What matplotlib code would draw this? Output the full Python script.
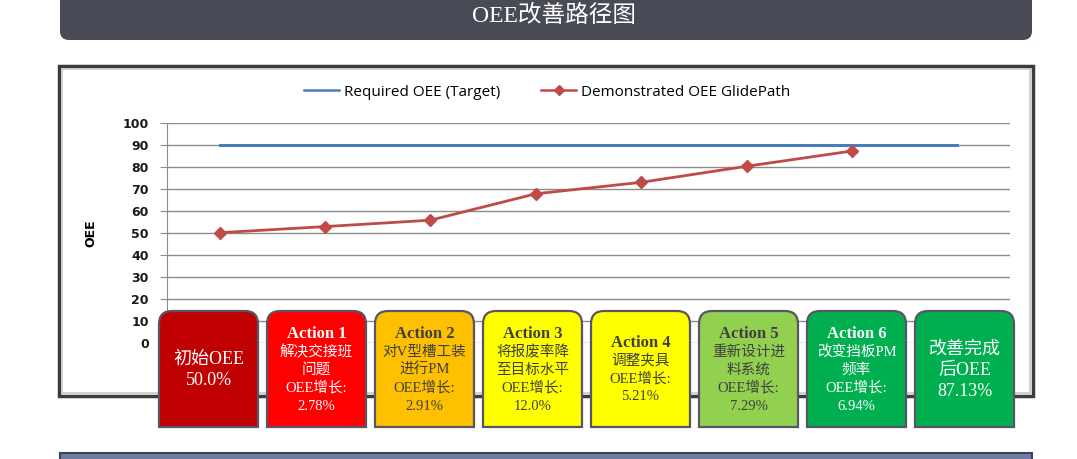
import matplotlib
matplotlib.use("Agg")
import matplotlib.pyplot as plt
from matplotlib.path import Path
from matplotlib.patches import PathPatch, Rectangle, FancyBboxPatch
from matplotlib.lines import Line2D

# data
steps = ["初始", "Action 1", "Action 2", "Action 3", "Action 4", "Action 5", "Action 6", "完成"]
target = [90, 90, 90, 90, 90, 90, 90, 90]
glide = [50.0, 52.78, 55.69, 67.69, 72.90, 80.19, 87.13]
yticks = [0, 10, 20, 30, 40, 50, 60, 70, 80, 90, 100]

box_heads = ["", "Action 1", "Action 2", "Action 3", "Action 4", "Action 5", "Action 6", ""]
box_lines = [
    ["初始OEE", "50.0%"],
    ["解决交接班", "问题", "OEE增长:", "2.78%"],
    ["对V型槽工装", "进行PM", "OEE增长:", "2.91%"],
    ["将报废率降", "至目标水平", "OEE增长:", "12.0%"],
    ["调整夹具", "OEE增长:", "5.21%"],
    ["重新设计进", "料系统", "OEE增长:", "7.29%"],
    ["改变挡板PM", "频率", "OEE增长:", "6.94%"],
    ["改善完成", "后OEE", "87.13%"],
]
box_colors = ["#c00000", "#ff0000", "#ffc000", "#ffff00", "#ffff00", "#92d050", "#00b050", "#00b050"]
text_colors = ["white", "white", "#404040", "#404040", "#404040", "#404040", "white", "white"]

W, H = 1077, 459
SERIF = ["Liberation Serif", "Noto Sans CJK SC"]

fig = plt.figure(figsize=(W / 100, H / 100), dpi=100)

# background layer in pixel coords
bg = fig.add_axes([0, 0, 1, 1], zorder=0)
bg.set_xlim(0, W)
bg.set_ylim(H, 0)
bg.axis("off")

bg.add_patch(FancyBboxPatch((60, -30), 972, 70, boxstyle="round,pad=0,rounding_size=9",
                            facecolor="#484a55", edgecolor="none"))
bg.text(554, 16, "OEE改善路径图", color="white", fontsize=17, ha="center", va="center",
        family=SERIF)

bg.add_patch(Rectangle((59, 66), 974, 330, facecolor="white", edgecolor="#3c3c3c", lw=2.5))
bg.add_patch(Rectangle((62, 69), 968, 324, facecolor="none", edgecolor="#c8c8c8", lw=1.2))

bg.add_patch(Rectangle((60, 453), 972, 20, facecolor="#717ba0", edgecolor="#3c4260", lw=1.5))

# chart
top_px, bot_px, left_px, right_px = 122.7, 342.7, 167, 1010
ax = fig.add_axes([left_px / W, 1 - bot_px / H, (right_px - left_px) / W, (bot_px - top_px) / H],
                  zorder=1)
ax.patch.set_alpha(0)
x_all = list(range(len(steps)))
ax.plot(x_all, target, color="#4a7ebb", lw=2.2, zorder=3)
ax.plot(x_all[:len(glide)], glide, color="#be4b48", lw=2.0, marker="D", markersize=6,
        zorder=4)
ax.set_xlim(-0.5, len(steps) - 0.5)
ax.set_ylim(0, 100)
ax.set_yticks(yticks)
ax.set_xticks([])
ax.grid(axis="y", color="#8c8c8c", lw=1)
ax.set_axisbelow(True)
for s in ["top", "right", "bottom"]:
    ax.spines[s].set_visible(False)
ax.spines["left"].set_color("#8c8c8c")
ax.tick_params(axis="y", length=5, color="#8c8c8c", pad=8, labelsize=9, labelcolor="#1a1a1a")
for lbl in ax.get_yticklabels():
    lbl.set_fontweight("bold")
ax.set_ylabel("OEE", fontsize=9, fontweight="bold")
ax.yaxis.set_label_coords(-0.082, 0.5)

handles = [Line2D([], [], color="#4a7ebb", lw=1.8),
           Line2D([], [], color="#be4b48", lw=1.8, marker="D", markersize=5.5)]
fig.legend(handles, ["Required OEE (Target)", "Demonstrated OEE GlidePath"],
           loc="center", bbox_to_anchor=(547 / W, 1 - 92 / H), ncol=2, frameon=False,
           prop={"family": ["Open Sans", "DejaVu Sans"], "size": 11},
           handlelength=2.3, columnspacing=2.7, handletextpad=0.3)

# action boxes on top
ov = fig.add_axes([0, 0, 1, 1], zorder=3)
ov.set_xlim(0, W)
ov.set_ylim(H, 0)
ov.axis("off")


def top_rounded(x0, y0, w, h, r):
    x1, y1 = x0 + w, y0 + h
    verts = [(x0, y1), (x0, y0 + r), (x0, y0), (x0 + r, y0), (x1 - r, y0), (x1, y0),
             (x1, y0 + r), (x1, y1), (x0, y1)]
    codes = [Path.MOVETO, Path.LINETO, Path.CURVE3, Path.CURVE3, Path.LINETO, Path.CURVE3,
             Path.CURVE3, Path.LINETO, Path.CLOSEPOLY]
    return Path(verts, codes)


box_top, box_h, box_w, box_x0, box_step = 311, 116, 99, 159, 108
for i, col in enumerate(box_colors):
    x0 = box_x0 + i * box_step
    ov.add_patch(PathPatch(top_rounded(x0, box_top, box_w, box_h, 13),
                           facecolor=col, edgecolor="#5a5566", lw=1.6))
    cx = x0 + box_w / 2
    cy = box_top + box_h / 2 + 1
    lines = ([box_heads[i]] if box_heads[i] else []) + box_lines[i]
    big = not box_heads[i]
    step = 21 if big else 18
    n = len(lines)
    for j, ln in enumerate(lines):
        y = cy + (j - (n - 1) / 2) * step
        bold = bool(box_heads[i]) and j == 0
        ov.text(cx, y, ln, ha="center", va="center", color=text_colors[i],
                fontsize=13 if big else (12 if bold else 10.5),
                fontweight="bold" if bold else "normal", family=SERIF)

fig.savefig("out.png", dpi=100)
